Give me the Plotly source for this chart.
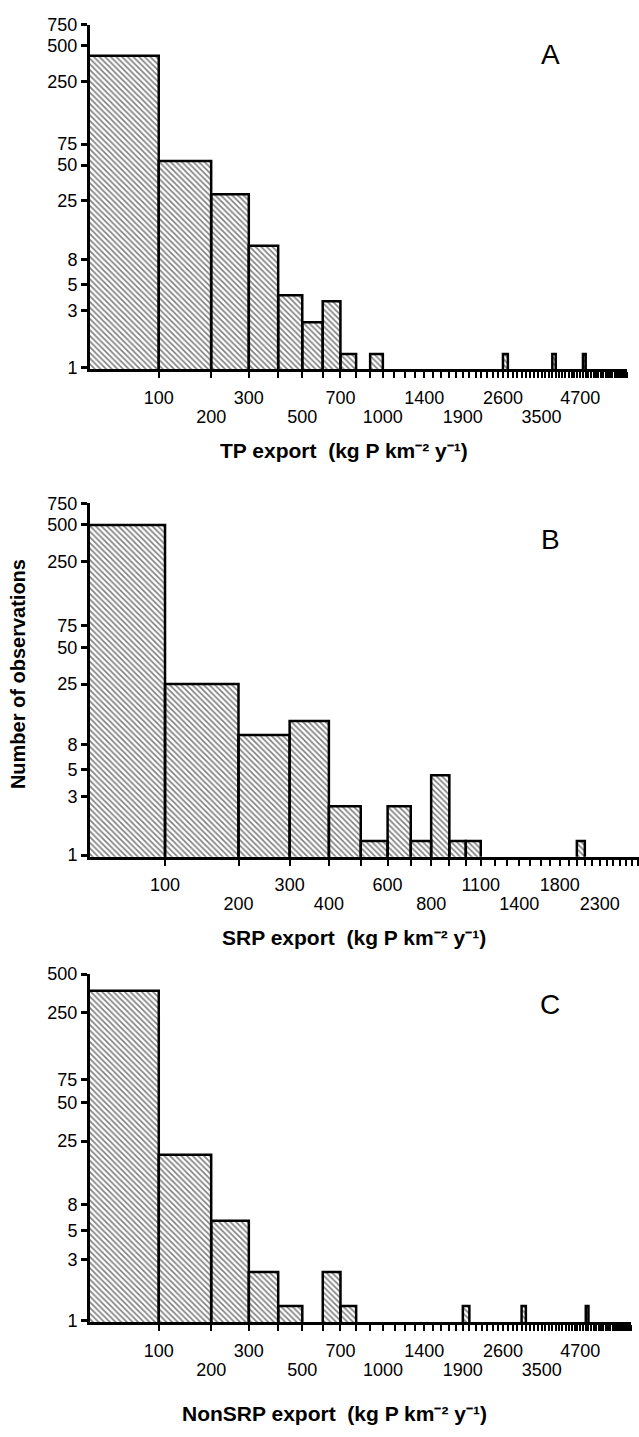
import math
import plotly.graph_objects as go

W, H = 639, 1437
BIN_WIDTH = 100

# ---------------- data ----------------
# Panel A: TP export, bin lower edges (kg P km-2 y-1) and number of observations
tp_bin_lo = [0, 100, 200, 300, 400, 500, 600, 700, 900, 2600, 3800, 4800]
tp_counts = [413, 54, 28.5, 10.5, 4.05, 2.4, 3.6, 1.3, 1.3, 1.3, 1.3, 1.3]
tp_row1 = [100, 300, 700, 1400, 2600, 4700]
tp_row2 = [200, 500, 1000, 1900, 3500]

# Panel B: SRP export
srp_bin_lo = [0, 100, 200, 300, 400, 500, 600, 700, 800, 900, 1000, 2000]
srp_counts = [500, 25, 9.6, 12.5, 2.5, 1.3, 2.5, 1.3, 4.5, 1.3, 1.3, 1.3]
srp_row1 = [100, 300, 600, 1100, 1800]
srp_row2 = [200, 400, 800, 1400, 2300]

# Panel C: NonSRP export
nsrp_bin_lo = [0, 100, 200, 300, 400, 600, 700, 1900, 3000, 4900]
nsrp_counts = [370, 19.6, 6, 2.4, 1.3, 2.4, 1.3, 1.3, 1.3, 1.3]
nsrp_row1 = [100, 300, 700, 1400, 2600, 4700]
nsrp_row2 = [200, 500, 1000, 1900, 3500]

y_ticks_ab = [1, 3, 5, 8, 25, 50, 75, 250, 500, 750]
y_ticks_c = [1, 3, 5, 8, 25, 50, 75, 250, 500]

FONT = "Arial, Liberation Sans, sans-serif"
TICK_SIZE = 18
UNIT = "(kg P km\u207b\u00b2 y\u207b\u00b9)"

panels = [
    dict(lo=tp_bin_lo, n=tp_counts, r1=tp_row1, r2=tp_row2, shift=110, xmin=16, xmax=6700,
         ymax=750, yt=y_ticks_ab, px=(90, 627), py=(15, 364), minor_w=1.5,
         title="TP export  " + UNIT, tx=344, ty=446, letter="A", ly=45),
    dict(lo=srp_bin_lo, n=srp_counts, r1=srp_row1, r2=srp_row2, shift=85, xmin=34, xmax=2920,
         ymax=750, yt=y_ticks_ab, px=(90, 639), py=(500, 858), minor_w=2,
         title="SRP export  " + UNIT, tx=354, ty=940, letter="B", ly=537),
    dict(lo=nsrp_bin_lo, n=nsrp_counts, r1=nsrp_row1, r2=nsrp_row2, shift=110, xmin=16, xmax=6900,
         ymax=500, yt=y_ticks_c, px=(90, 631), py=(977, 1330), minor_w=2,
         title="NonSRP export  " + UNIT, tx=334, ty=1422, letter="C", ly=1008),
]

fig = go.Figure()
layout = {}
annotations = []
BASE = 0.5  # below the visible range, bars start at the axis

for i, p in enumerate(panels):
    k = "" if i == 0 else str(i + 1)
    k2 = str(i + 4)  # overlay axis carrying the second row of tick labels
    xs, ys = [], []
    for lo, n in zip(p["lo"], p["n"]):
        a, b = lo + p["shift"], lo + BIN_WIDTH + p["shift"]
        xs += [a, a, b, b, a, None]
        ys += [BASE, n, n, BASE, BASE, None]
    fig.add_trace(go.Scatter(
        x=xs, y=ys, mode="lines", fill="toself",
        line=dict(color="black", width=2.5),
        fillcolor="white",
        fillpattern=dict(shape="\\", size=4, solidity=0.4, fgcolor="black", bgcolor="white"),
        xaxis="x" + k, yaxis="y" + k, hoverinfo="skip", showlegend=False,
    ))
    # invisible trace so the overlay axis is drawn
    fig.add_trace(go.Scatter(
        x=[p["r2"][0] + p["shift"]], y=[1], mode="markers", marker=dict(opacity=0),
        xaxis="x" + k2, yaxis="y" + k, hoverinfo="skip", showlegend=False,
    ))

    minor_vals = []
    v = BIN_WIDTH
    while v <= p["xmax"]:
        minor_vals.append(v + p["shift"])
        v += BIN_WIDTH

    x0, x1 = p["px"]
    y0, y1 = p["py"]
    xrange = [math.log10(p["xmin"] + p["shift"]), math.log10(p["xmax"] + p["shift"])]
    layout["xaxis" + k] = dict(
        type="log", domain=[x0 / W, x1 / W], anchor="y" + k, range=xrange,
        tickmode="array", tickvals=[t + p["shift"] for t in p["r1"]],
        ticktext=[str(t) for t in p["r1"]], tickangle=0,
        showline=True, linecolor="black", linewidth=3,
        ticks="outside", ticklen=6, tickwidth=2, tickcolor="black",
        minor=dict(tickmode="array", tickvals=minor_vals, ticks="outside",
                   ticklen=6, tickwidth=p["minor_w"], tickcolor="black", showgrid=False),
        showgrid=False, zeroline=False, ticklabelstandoff=4,
        tickfont=dict(family=FONT, size=TICK_SIZE, color="black"),
    )
    layout["xaxis" + k2] = dict(
        type="log", overlaying="x" + k, anchor="y" + k, side="bottom", range=xrange,
        tickmode="array", tickvals=[t + p["shift"] for t in p["r2"]],
        ticktext=[str(t) for t in p["r2"]], tickangle=0,
        showline=False, ticks="outside", ticklen=6, tickcolor="rgba(0,0,0,0)",
        showgrid=False, zeroline=False,
        ticklabelstandoff=25,
        tickfont=dict(family=FONT, size=TICK_SIZE, color="black"),
    )
    layout["yaxis" + k] = dict(
        type="log", domain=[(H - y1) / H, (H - y0) / H], anchor="x" + k,
        range=[math.log10(0.97), math.log10(p["ymax"])],
        tickmode="array", tickvals=p["yt"], ticktext=[str(t) for t in p["yt"]],
        showline=True, linecolor="black", linewidth=3,
        ticks="outside", ticklen=6, tickwidth=2.5, tickcolor="black",
        showgrid=False, zeroline=False,
        tickfont=dict(family=FONT, size=TICK_SIZE, color="black"),
    )
    annotations.append(dict(
        text="<b>" + p["title"] + "</b>", x=p["tx"] / W, y=(H - p["ty"]) / H,
        xref="paper", yref="paper", xanchor="center", yanchor="middle", showarrow=False,
        font=dict(family=FONT, size=21, color="black"),
    ))
    annotations.append(dict(
        text=p["letter"], x=550 / W, y=(H - p["ly"]) / H,
        xref="paper", yref="paper", xanchor="center", yanchor="middle", showarrow=False,
        font=dict(family=FONT, size=28, color="black"),
    ))

annotations.append(dict(
    text="<b>Number of observations</b>", x=18 / W, y=(H - 673) / H, textangle=-90,
    xref="paper", yref="paper", xanchor="center", yanchor="middle", showarrow=False,
    font=dict(family=FONT, size=20, color="black"),
))

fig.update_layout(
    width=W, height=H, autosize=False,
    margin=dict(l=0, r=0, t=0, b=0),
    paper_bgcolor="white", plot_bgcolor="white",
    showlegend=False, annotations=annotations, **layout,
)

fig.write_html("out.html", config={"displayModeBar": False},
               post_script="document.body.style.margin='0';")
